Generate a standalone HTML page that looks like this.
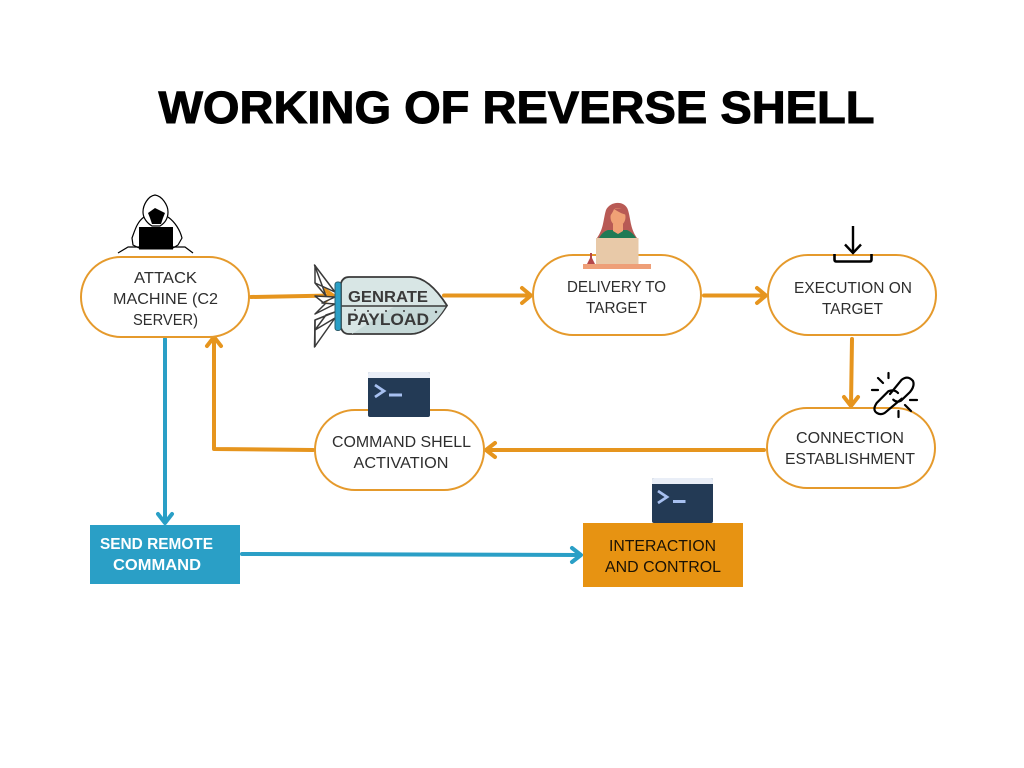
<!DOCTYPE html>
<html>
<head>
<meta charset="utf-8">
<style>
html,body{margin:0;padding:0;background:#fff;width:1024px;height:768px;overflow:hidden}
svg{display:block}
text{font-family:"Liberation Sans",sans-serif;text-anchor:middle}
.l{font-size:15.3px;fill:#2e2e2e}
.b{font-size:15.3px;font-weight:bold;fill:#fff}
.d{font-size:15.3px;fill:#1a1205}
.o{fill:#fff;stroke:#e59a2c;stroke-width:2}
.ao{fill:none;stroke:#e6951e;stroke-width:4;stroke-linejoin:round;stroke-linecap:round}
.ab{fill:none;stroke:#2a9fc6;stroke-width:4;stroke-linejoin:round;stroke-linecap:round}
</style>
</head>
<body>
<svg width="1024" height="768" viewBox="0 0 1024 768" xmlns="http://www.w3.org/2000/svg">
<rect width="1024" height="768" fill="#fff"/>
<text x="516.500" y="123" font-size="45.500" font-weight="bold" fill="#000" stroke="#000" stroke-width="1" textLength="716" lengthAdjust="spacingAndGlyphs">WORKING OF REVERSE SHELL</text>

<!-- connectors -->
<path class="ao" d="M251 297L332 295.500M325 290L333 295.500L325 301"/>
<path class="ao" d="M444 295.500H530M522 288L531 295.500L522 303"/>
<path class="ao" d="M704 295.500H765M757 288L766 295.500L757 303"/>
<path class="ao" d="M852 339L851 405M844 397L851 406L858 397"/>
<path class="ao" d="M764 450H487M495 443L486 450L495 457"/>
<path class="ao" d="M313 450L214 449V338M207 346L214 337L221 346"/>
<path class="ab" d="M165 339V522M158 514L165 523L172 514"/>
<path class="ab" d="M242 554L580 555M572 548L581 555L572 562"/>

<!-- pills -->
<rect class="o" x="81" y="257" width="168" height="80" rx="40"/>
<rect class="o" x="533" y="255" width="168" height="80" rx="40"/>
<rect class="o" x="768" y="255" width="168" height="80" rx="40"/>
<rect class="o" x="767" y="408" width="168" height="80" rx="40"/>
<rect class="o" x="315" y="410" width="169" height="80" rx="40"/>
<rect x="90" y="525" width="150" height="59" fill="#2a9fc6"/>
<rect x="583" y="523" width="160" height="64" fill="#e79312"/>

<!-- labels -->
<text class="l" x="165.500" y="283" textLength="63" lengthAdjust="spacingAndGlyphs">ATTACK</text>
<text class="l" x="165.500" y="304" textLength="105" lengthAdjust="spacingAndGlyphs">MACHINE (C2</text>
<text class="l" x="165.500" y="325" textLength="65" lengthAdjust="spacingAndGlyphs">SERVER)</text>
<text class="l" x="616.500" y="292" textLength="99" lengthAdjust="spacingAndGlyphs">DELIVERY TO</text>
<text class="l" x="616.500" y="313" textLength="61" lengthAdjust="spacingAndGlyphs">TARGET</text>
<text class="l" x="853" y="293" textLength="118" lengthAdjust="spacingAndGlyphs">EXECUTION ON</text>
<text class="l" x="852.500" y="314" textLength="61" lengthAdjust="spacingAndGlyphs">TARGET</text>
<text class="l" x="850" y="443" textLength="108" lengthAdjust="spacingAndGlyphs">CONNECTION</text>
<text class="l" x="850" y="464" textLength="130" lengthAdjust="spacingAndGlyphs">ESTABLISHMENT</text>
<text class="l" x="401.500" y="447" textLength="139" lengthAdjust="spacingAndGlyphs">COMMAND SHELL</text>
<text class="l" x="401" y="468" textLength="95" lengthAdjust="spacingAndGlyphs">ACTIVATION</text>
<text class="b" x="156.500" y="549" textLength="113" lengthAdjust="spacingAndGlyphs">SEND REMOTE</text>
<text class="b" x="157" y="570" textLength="88" lengthAdjust="spacingAndGlyphs">COMMAND</text>
<text class="d" x="662.500" y="551" textLength="107" lengthAdjust="spacingAndGlyphs">INTERACTION</text>
<text class="d" x="663" y="572" textLength="116" lengthAdjust="spacingAndGlyphs">AND CONTROL</text>

<!-- hacker -->
<g fill="none" stroke="#000" stroke-width="1.200" stroke-linejoin="round">
<path d="M144 217C137 222 135 230 132 238L133 245L139 248"/>
<path d="M168 217C175 222 180 230 182 238L178 245L173 248"/>
<path d="M118 253L128 247H139M173 247H185L193 253"/>
<path d="M155 195C148 196 143 205 143 212C143 218 147 223 152 226H160C165 223 168 218 168 212C168 205 162 196 155 195Z" fill="#fff"/>
</g>
<path d="M148 213L155 208L165 213L163 218L161 224H152L150 218Z" fill="#000"/>
<rect x="139" y="227" width="34" height="22.500" fill="#000"/>

<!-- bomb fins -->
<g stroke="#3a3a3a" stroke-width="1.500" fill="#fff" stroke-linejoin="round">
<path d="M314.500 265L335 292L315 283L326 296Z"/>
<path d="M315 283V265"/>
<path d="M315 296L335 297L322 303L335 304L315 314L325 304Z"/>
<path d="M314.500 347L335 318L315 330L326 315L335 312L315 320Z"/>
<path d="M315 320V347"/>
</g>
<!-- bomb body -->
<path d="M341 283Q343 277 349 277H411C426 277 439 293 447 305.500C439 318 426 334 411 334H349Q343 334 341 328Z" fill="#d8e6e5" stroke="#3a3a3a" stroke-width="1.800"/>
<path d="M352 334L395 306H446C439 318 426 333 411 333H352Z" fill="#c6d9d8"/>
<path d="M341 306H447" stroke="#3a3a3a" stroke-width="1.500"/>
<rect x="335" y="282" width="6" height="48.500" rx="2.500" fill="#2a9fc6" stroke="#2c5d6b" stroke-width="1"/>
<text x="388" y="302" font-size="15.500" font-weight="bold" fill="#3a3a3a" textLength="80" lengthAdjust="spacingAndGlyphs">GENRATE</text>
<text x="388" y="325" font-size="17" font-weight="bold" fill="#3a3a3a" textLength="82" lengthAdjust="spacingAndGlyphs">PAYLOAD</text>
<g fill="#3a3a3a"><circle cx="355" cy="310" r="1"/><circle cx="368" cy="311" r="1"/><circle cx="386" cy="311" r="1"/><circle cx="404" cy="311" r="1"/><circle cx="436" cy="312" r="1.200"/></g>

<!-- woman -->
<path d="M606 210C610 201 625 200 628 210C631 220 630 228 637 238H597C604 228 603 220 606 210Z" fill="#b85a55"/>
<path d="M597 264V245C598 236 604 231 608 230H627C632 232 638 238 638 245V264Z" fill="#1f7a55"/>
<ellipse cx="618" cy="217" rx="7.500" ry="9" fill="#f0a176"/>
<path d="M613 224H623V231L618 234L613 231Z" fill="#f0a176"/>
<path d="M609 217C610 207 624 205 627 215C622 214 617 211 614 209C613 212 611 215 609 217Z" fill="#b85a55"/>
<rect x="596" y="238" width="42.500" height="26" fill="#e8c9a8"/>
<rect x="583" y="264" width="68" height="5" fill="#ee9f78"/>
<path d="M587 264L590 258V253H592V258L595 264Z" fill="#b5484a"/>

<!-- download icon -->
<path d="M853 226V252M845 244.500L853 253L861 244.500" fill="none" stroke="#000" stroke-width="2.400"/>
<path d="M834.500 254V259.500Q834.500 261.500 836.500 261.500H869.500Q871.500 261.500 871.500 259.500V254" fill="none" stroke="#000" stroke-width="2.600"/>

<!-- broken link -->
<g fill="none" stroke="#000" stroke-width="2.200" stroke-linecap="round">
<path d="M890 394L901.700 379.700Q908 375 913 381Q915 386 910 392L901 400.700Q896.700 403 893.300 399.700"/>
<path d="M898 393Q894.300 388.700 888.300 391.300L876.700 403Q872 410 877 413Q882 416 887 411L901.700 398.700"/>
<path d="M888.500 373V378M878 378L883 383M872 390H878M910 400H917M905 405L911 411M898.500 411V417"/>
</g>

<!-- terminals -->
<g>
<rect x="368" y="372" width="62" height="45" rx="2" fill="#233a55"/>
<path d="M368 374a2 2 0 0 1 2-2h58a2 2 0 0 1 2 2v4h-62z" fill="#e9eef7"/>
<path d="M375 385L384 391L375 397" fill="none" stroke="#a7c0f0" stroke-width="2.800"/>
<rect x="389" y="393.500" width="13" height="3" fill="#a7c0f0"/>
</g>
<g>
<rect x="652" y="478" width="61" height="45" rx="2" fill="#233a55"/>
<path d="M652 480a2 2 0 0 1 2-2h57a2 2 0 0 1 2 2v4h-61z" fill="#e9eef7"/>
<path d="M658 491L667 497L658 503" fill="none" stroke="#a7c0f0" stroke-width="2.800"/>
<rect x="673" y="500" width="12.500" height="3" fill="#a7c0f0"/>
</g>
</svg>
</body>
</html>
